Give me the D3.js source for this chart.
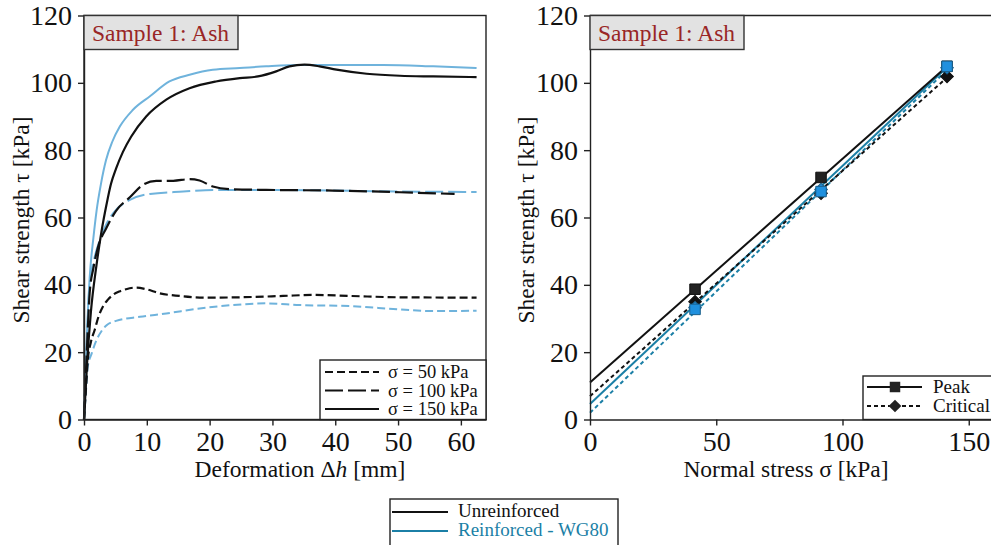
<!DOCTYPE html>
<html lang="en">
<head>
<meta charset="UTF-8">
<title>Sample 1: Ash</title>
<script src="https://cdn.jsdelivr.net/npm/d3@7/dist/d3.min.js"></script>
<style>
    body{ margin:0; background:#fff; }
    svg text{ font-family:"Liberation Serif","DejaVu Serif",serif; fill:#111; }
    .axis path,.axis line{ stroke:#222; stroke-width:1.4; }
    .axis text{ font-size:28px; }
</style>
</head>
<body>
<svg id="main" width="991" height="545"></svg>
<script>
    // left panel: shear curves, [deformation mm, tau kPa]
    const un50 = [[0,0],[0.3,9],[0.6,17.6],[1.1,23],[1.7,26.6],[2.3,30.5],[3,33.5],[3.8,35.6],[4.6,37],[5.6,38],[6.7,38.7],[8.3,39.2],[9.9,38.7],[12,37.5],[15.2,36.7],[19.5,36.2],[24.8,36.3],[31.7,36.7],[36.5,37],[42.3,36.7],[50.3,36.3],[62.5,36.2]]
    const re50 = [[0,0],[0.3,8],[0.6,15.7],[1.2,19.5],[2,23.6],[2.8,26.3],[3.6,28],[5.1,29.3],[8.9,30.5],[13.1,31.5],[18.4,33],[23.7,34],[29,34.5],[34.3,34],[42.3,33.7],[50.3,32.7],[55.6,32.2],[62.5,32.3]]
    const un100 = [[0,0],[0.4,18],[0.9,37.5],[1.5,45],[2.2,51],[3.6,57],[5.1,62],[7.3,66],[9.4,69.7],[11.5,70.9],[14.2,70.9],[16.8,71.4],[18.4,71],[20.5,69.2],[23.2,68.4],[29,68.2],[39.6,68],[50.3,67.5],[59,67]]
    const re100 = [[0,0],[0.4,20],[0.9,40.4],[1.6,47.5],[2.5,53.3],[3.5,57.8],[4.6,61.2],[7.3,65.2],[10.5,67],[15.8,67.7],[21,68.2],[29,68.2],[39.6,68],[50.3,67.7],[62.5,67.6]]
    const un150 = [[0,0],[0.5,17],[1.1,32],[2,46],[2.8,56],[3.6,64],[4.3,70],[5.1,74.5],[6.2,79.5],[7.5,84],[9.9,90],[13.1,95],[16.8,98.4],[21,100.4],[24.8,101.4],[27.7,101.9],[30.6,103.4],[32.7,104.9],[35.1,105.4],[37.5,104.9],[40.2,103.9],[45,102.7],[50.3,102.1],[55.6,101.9],[62.5,101.7]]
    const re150 = [[0,0],[0.4,22],[0.9,42],[1.5,54],[2,62],[2.7,70],[3.5,77],[4.5,82.5],[5.7,87],[7.8,92],[10.5,96],[13.6,100.4],[16.8,102.4],[20.5,103.9],[24.8,104.4],[29,104.9],[34.3,105.3],[39.6,105.3],[47.6,105.3],[55.6,104.9],[62.5,104.4]]

    // right panel: failure envelopes, normal stress vs tau
    const sigma = [41.6, 91.5, 141.4]
    const unPeak = [38.7, 71.9, 104.9]
    const unCrit = [35.0, 67.2, 101.9]
    const rePeak = [32.7, 67.7, 104.9]
    const reCrit = [33.2, 68.3, 104.5]
    // fitted lines, [sigma, tau] at both ends
    const unPeakFit = [[0,11.0],[141.4,104.9]]
    const unCritFit = [[0,6.9],[141.4,101.6]]
    const rePeakFit = [[0,4.6],[141.4,104.6]]
    const reCritFit = [[0,2.0],[141.4,103.8]]

    const yTicks = [0,20,40,60,80,100,120]
    const xTicksL = [0,10,20,30,40,50,60]
    const xTicksR = [0,50,100,150]
    const sigmaLabels = ['σ = 50 kPa','σ = 100 kPa','σ = 150 kPa']

    const black = '#111', lightBlue = '#6fb3dc', teal = '#1b7fa6', markBlue = '#1f90de'
    const dashes = ['8,4','18,5',null]

    const svg = d3.select('#main')
    const yTop = 15.5, yBot = 419.5

    // ----- left panel
    const xL = d3.scaleLinear().domain([0,64]).range([84,486])
    const yL = d3.scaleLinear().domain([0,120]).range([yBot,yTop])
    const left = svg.append('g')

    const line = d3.line().x(d=>xL(d[0])).y(d=>yL(d[1])).curve(d3.curveMonotoneX)
    const curves = [
        {d:re50,c:lightBlue,k:0},{d:re100,c:lightBlue,k:1},{d:re150,c:lightBlue,k:2},
        {d:un50,c:black,k:0},{d:un100,c:black,k:1},{d:un150,c:black,k:2}
    ]
    left.selectAll('path.curve').data(curves).join('path')
        .attr('class','curve')
        .attr('d',d=>line(d.d))
        .attr('fill','none')
        .attr('stroke',d=>d.c)
        .attr('stroke-width',d=>d.c===black?2.2:2)
        .attr('stroke-dasharray',d=>dashes[d.k])

    left.append('rect').attr('x',xL(0)).attr('y',yTop).attr('width',xL(64)-xL(0)).attr('height',yBot-yTop)
        .attr('fill','none').attr('stroke','#222').attr('stroke-width',1.4)

    left.append('g').attr('class','axis').attr('transform',`translate(0,${yBot})`)
        .call(d3.axisBottom(xL).tickValues(xTicksL).tickSize(6).tickPadding(6).tickSizeOuter(0))
    left.append('g').attr('class','axis').attr('transform',`translate(${xL(0)},0)`)
        .call(d3.axisLeft(yL).tickValues(yTicks).tickSize(6).tickPadding(6).tickSizeOuter(0))

    left.append('text').attr('x',300).attr('y',477).attr('text-anchor','middle')
        .style('font-size','23.5px').html('Deformation Δ<tspan font-style="italic">h</tspan> [mm]')
    left.append('text').attr('transform','translate(29,220) rotate(-90)').attr('text-anchor','middle')
        .style('font-size','23.5px').text('Shear strength τ [kPa]')

    // sigma legend
    const lg = left.append('g')
    lg.append('rect').attr('x',320).attr('y',360).attr('width',166).attr('height',59.5)
        .attr('fill','#fff').attr('stroke','#222').attr('stroke-width',1.4)
    sigmaLabels.forEach((s,i)=>{
        const y = 372 + i*18.5
        lg.append('line').attr('x1',325).attr('x2',379).attr('y1',y).attr('y2',y)
            .attr('stroke',black).attr('stroke-width',2.2).attr('stroke-dasharray',dashes[i])
        lg.append('text').attr('x',388).attr('y',y+6).style('font-size','18.5px').text(s)
    })

    // ----- right panel
    const xR = d3.scaleLinear().domain([0,160]).range([590,994])
    const yR = d3.scaleLinear().domain([0,120]).range([yBot,yTop])
    const right = svg.append('g')
    const fitLine = d3.line().x(d=>xR(d[0])).y(d=>yR(d[1]))
    const fits = [
        {d:reCritFit,c:teal,dash:'4,3'},{d:rePeakFit,c:teal,dash:null},
        {d:unCritFit,c:black,dash:'4,3'},{d:unPeakFit,c:black,dash:null}
    ]
    right.selectAll('path.fit').data(fits).join('path')
        .attr('class','fit').attr('d',d=>fitLine(d.d)).attr('fill','none')
        .attr('stroke',d=>d.c).attr('stroke-width',2).attr('stroke-dasharray',d=>d.dash)

    const sq = d3.symbol().type(d3.symbolSquare).size(110)
    const dia = d3.symbol().type(d3.symbolSquare).size(80)
    const markers = [
        {v:unCrit,s:dia,r:45,f:black,st:black},
        {v:unPeak,s:sq,r:0,f:'#222',st:black},
        {v:reCrit,s:dia,r:45,f:markBlue,st:'#1a5f8a'},
        {v:rePeak,s:sq,r:0,f:markBlue,st:'#1a5f8a'}
    ]
    markers.forEach(m=>{
        right.append('g').selectAll('path').data(m.v).join('path')
            .attr('transform',(d,i)=>`translate(${xR(sigma[i])},${yR(d)}) rotate(${m.r})`)
            .attr('d',m.s).attr('fill',m.f).attr('stroke',m.st).attr('stroke-width',1)
    })

    right.append('line').attr('x1',xR(0)).attr('x2',xR(160)).attr('y1',yTop).attr('y2',yTop)
        .attr('stroke','#222').attr('stroke-width',1.4)
    right.append('line').attr('x1',xR(160)).attr('x2',xR(160)).attr('y1',yTop).attr('y2',yBot)
        .attr('stroke','#222').attr('stroke-width',1.4)
    right.append('g').attr('class','axis').attr('transform',`translate(0,${yBot})`)
        .call(d3.axisBottom(xR).tickValues(xTicksR).tickSize(6).tickPadding(6).tickSizeOuter(0))
    right.append('g').attr('class','axis').attr('transform',`translate(${xR(0)},0)`)
        .call(d3.axisLeft(yR).tickValues(yTicks).tickSize(6).tickPadding(6).tickSizeOuter(0))

    right.append('text').attr('x',786).attr('y',477).attr('text-anchor','middle')
        .style('font-size','23.5px').text('Normal stress σ [kPa]')
    right.append('text').attr('transform','translate(534,220) rotate(-90)').attr('text-anchor','middle')
        .style('font-size','23.5px').text('Shear strength τ [kPa]')

    // peak / critical legend
    const lr = right.append('g')
    lr.append('rect').attr('x',863).attr('y',376).attr('width',140).attr('height',43.5)
        .attr('fill','#fff').attr('stroke','#222').attr('stroke-width',1.4)
    ;[['Peak',null,sq,0],['Critical','4,3',dia,45]].forEach((e,i)=>{
        const y = 387 + i*19
        lr.append('line').attr('x1',867).attr('x2',922).attr('y1',y).attr('y2',y)
            .attr('stroke',black).attr('stroke-width',2).attr('stroke-dasharray',e[1])
        lr.append('path').attr('transform',`translate(895,${y}) rotate(${e[3]})`).attr('d',e[2]).attr('fill','#222')
        lr.append('text').attr('x',933).attr('y',y+6).style('font-size','19px').text(e[0])
    })

    // sample tags
    ;[[xL(0),'Sample 1: Ash'],[xR(0),'Sample 1: Ash']].forEach(t=>{
        const g = svg.append('g')
        g.append('rect').attr('x',t[0]).attr('y',yTop).attr('width',154).attr('height',34)
            .attr('fill','#e2e2e2').attr('stroke','#333').attr('stroke-width',1.4)
        g.append('text').attr('x',t[0]+8).attr('y',yTop+25).style('font-size','23.5px')
            .style('fill','#992626').text(t[1])
    })

    // bottom legend
    const lb = svg.append('g')
    lb.append('rect').attr('x',390).attr('y',499).attr('width',228).attr('height',48)
        .attr('fill','#fff').attr('stroke','#222').attr('stroke-width',1.4)
    ;[['Unreinforced',black],['Reinforced - WG80',teal]].forEach((e,i)=>{
        const y = 512 + i*19
        lb.append('line').attr('x1',392).attr('x2',448).attr('y1',y).attr('y2',y)
            .attr('stroke',e[1]).attr('stroke-width',2)
        lb.append('text').attr('x',458).attr('y',y+5).style('font-size','19px').style('fill',e[1]).text(e[0])
    })
</script>
</body>
</html>
